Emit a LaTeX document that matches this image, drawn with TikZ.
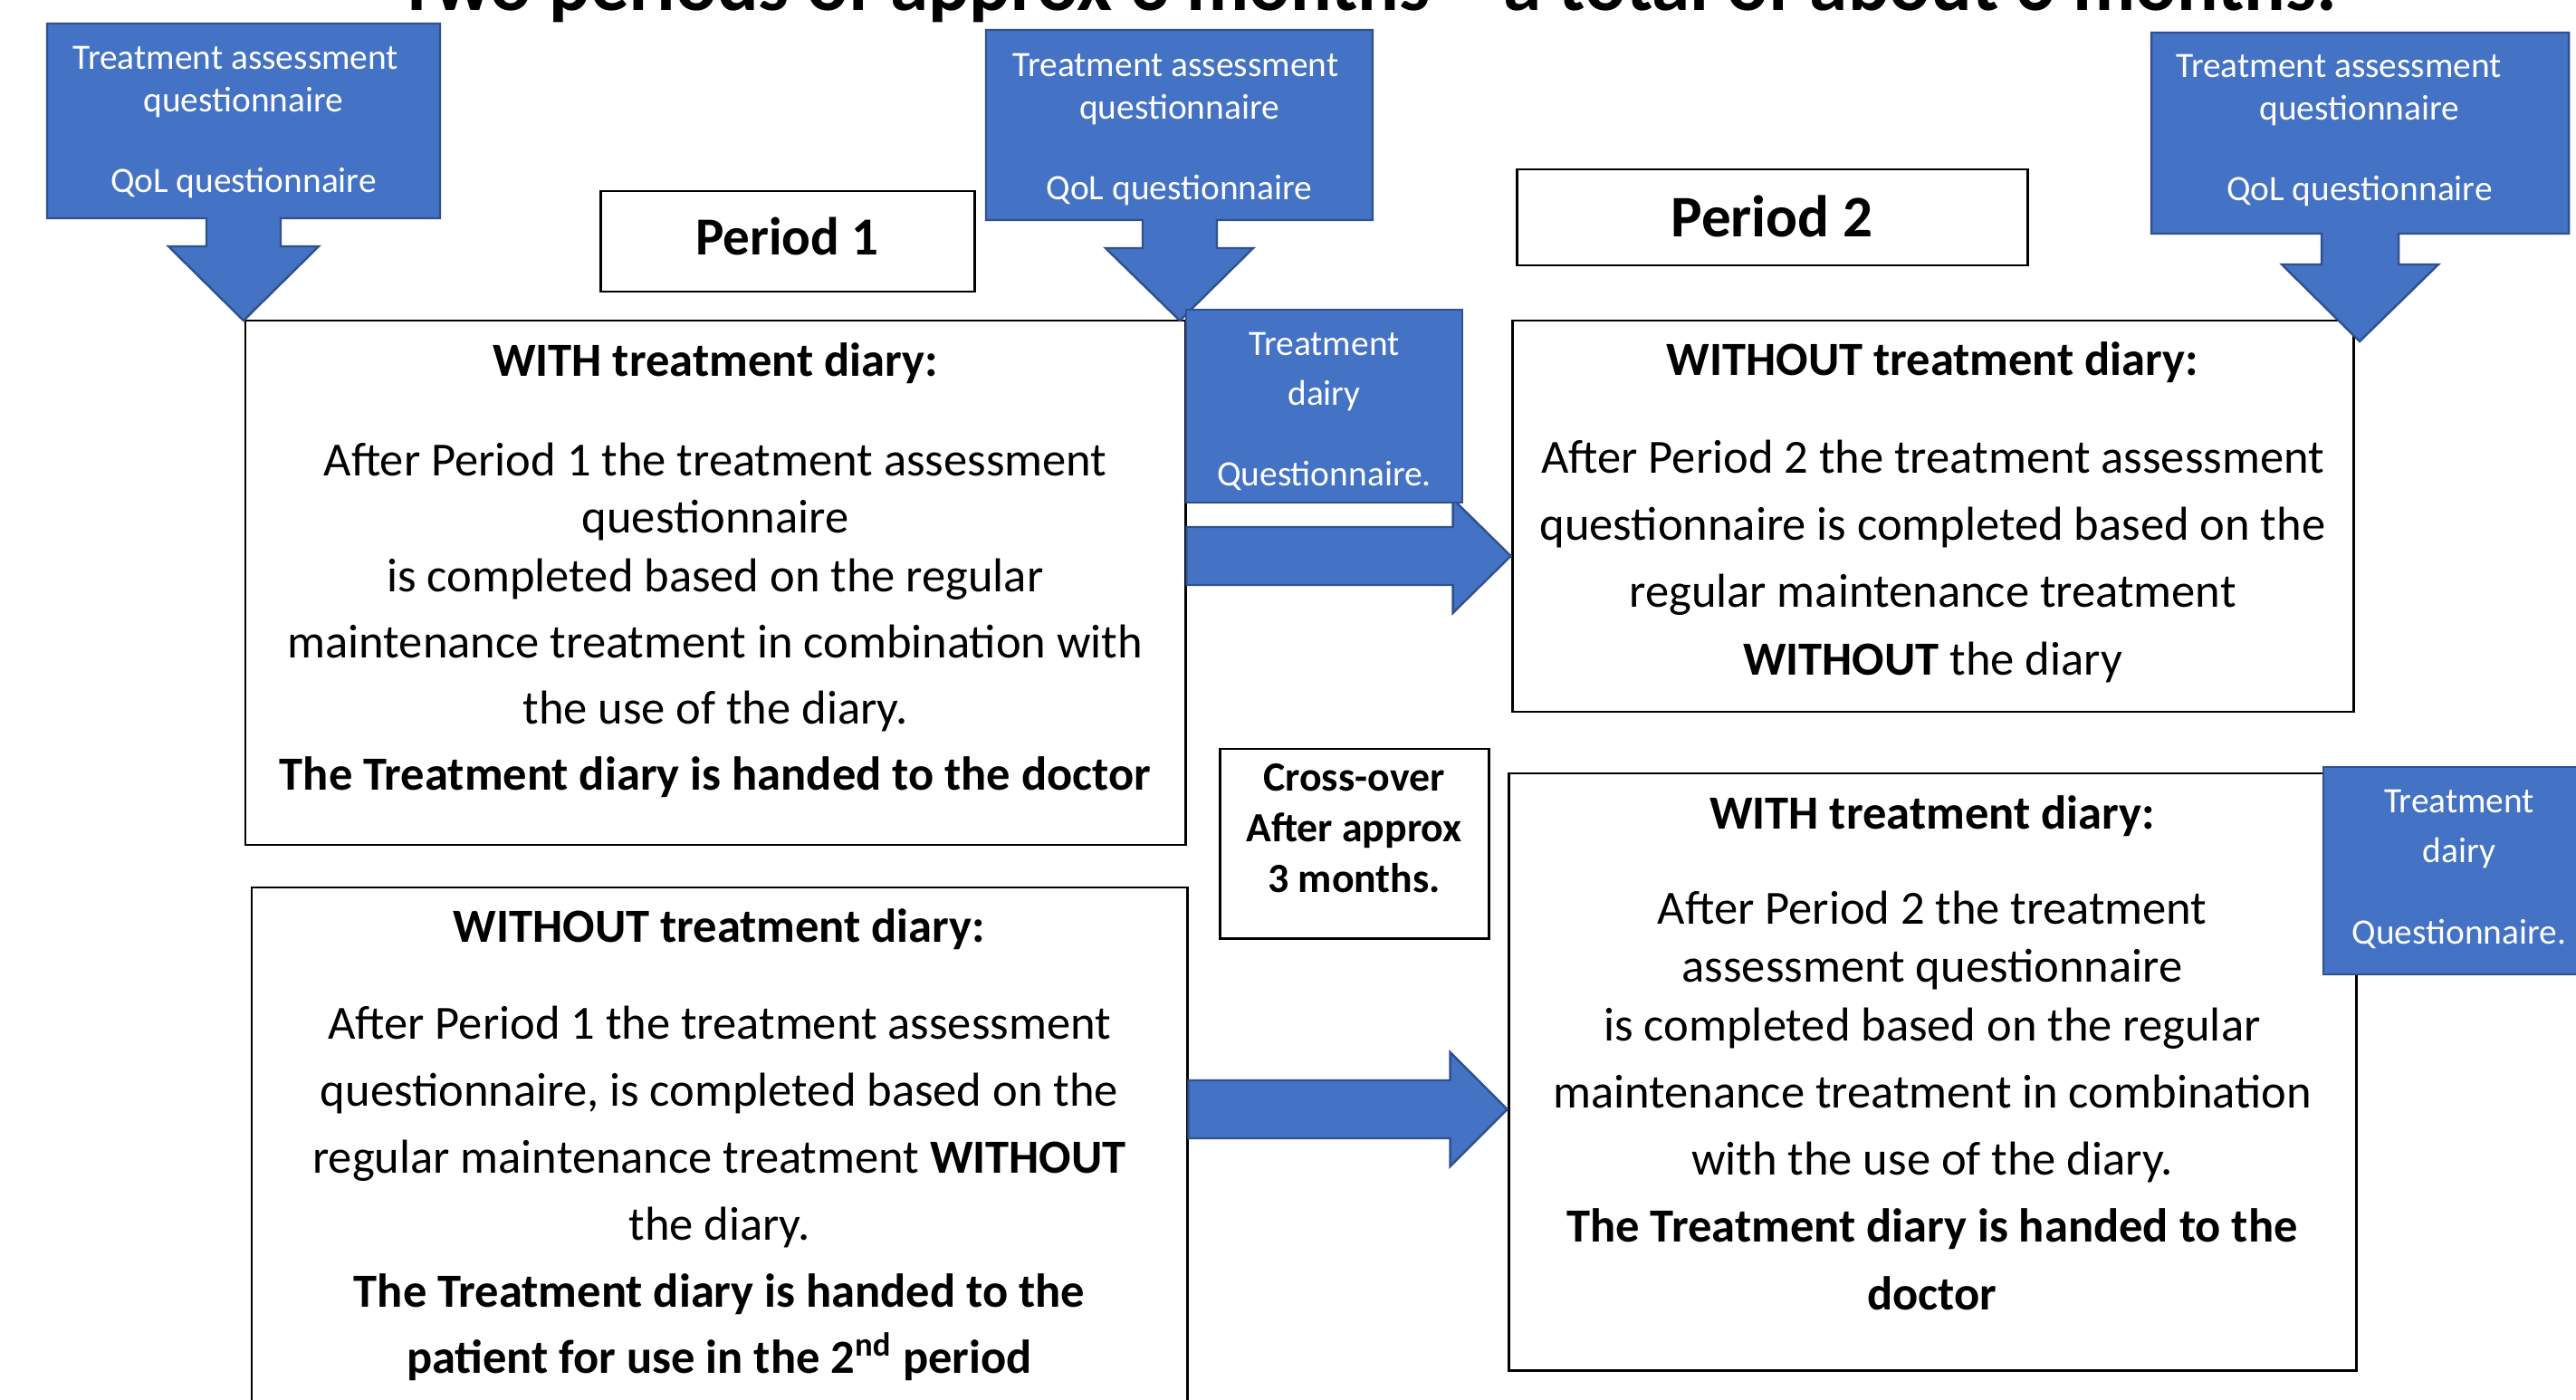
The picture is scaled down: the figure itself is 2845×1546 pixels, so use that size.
\documentclass[tikz,border=0pt]{standalone}
\usepackage{fontspec}
\setmainfont{Carlito}
\usetikzlibrary{fit,calc}
\definecolor{offblue}{HTML}{4472C4}
\definecolor{offblueline}{HTML}{2F528F}
\newcommand{\bodyf}{\fontsize{14.94pt}{21.05pt}\selectfont}
\newcommand{\bluef}{\fontsize{11.21pt}{13.37pt}\selectfont}
\newcommand{\dairyf}{\fontsize{11.21pt}{15.65pt}\selectfont}
\newcommand{\crossf}{\fontsize{13.03pt}{15.8pt}\selectfont\bfseries}
\begin{document}
\begin{tikzpicture}[x=0.01cm,y=-0.01cm,
  frame/.style={draw=black, line width=0.85pt, fill=white, inner sep=0pt},
  bluebox/.style={fill=offblue, draw=offblueline, line width=0.7pt, inner sep=0pt},
  callout/.style={fill=offblue, draw=offblueline, line width=0.7pt, line join=miter},
  blockarrow/.style={fill=offblue, draw=offblueline, line width=0.7pt, line join=miter},
  txt/.style={anchor=base, align=center, inner sep=0pt},
  wtxt/.style={txt, text=white}
]
\useasboundingbox (0,0) rectangle (2845,1546);
\clip (0,0) rectangle (2845,1546);

% title
\node[txt, font=\fontsize{24.2pt}{29pt}\selectfont\bfseries] (title) at (1510,12)
  {Two periods of approx 3 months – a total of about 6 months.};

% frames
\node[frame, fit={(271,354) (1309,933)}] (withA) {};
\node[frame, fit={(278,980) (1311,1600)}] (withoutA) {};
\node[frame, fit={(1670,354) (2599,786)}] (withoutB) {};
\node[frame, fit={(1666,854) (2602,1513)}] (withB) {};
\node[frame, fit={(663,211) (1076,322)}] (p1) {};
\node[frame, fit={(1675,187) (2239,293)}] (p2) {};
\node[frame, fit={(1347,827) (1644,1036)}] (cross) {};

% period labels
\node[txt, font=\fontsize{16.8pt}{20pt}\selectfont\bfseries] (p1t) at (p1.center |- 0,282) {Period 1};
\node[txt, font=\fontsize{18.5pt}{22pt}\selectfont\bfseries] (p2t) at (p2.center |- 0,262) {Period 2};

% cross-over (anchor = baseline of last line)
\node[txt, font=\crossf] (crosst) at (cross.center |- 0,985) {Cross-over\\After approx\\3 months.};

% box texts (anchor = baseline of last line)
\node[txt, font=\bodyf] (withAt) at (790,872) {\textbf{WITH treatment diary:}\\[9.96pt]
  After Period 1 the treatment assessment\\[-3.13pt]
  questionnaire\hspace*{5.7pt}\\[-2.56pt]
  is completed based on the regular\\[-0.3pt]
  maintenance treatment in combination with\hspace*{6pt}\\[-0.3pt]
  the use of the diary.\\[-0.3pt]
  \textbf{The Treatment diary is handed to the doctor}};

\node[txt, font=\bodyf] (withoutAt) at (794.5,1516) {\textbf{WITHOUT treatment diary:}\\[9.39pt]
  After Period 1 the treatment assessment\\
  questionnaire, is completed based on the\\
  regular maintenance treatment \textbf{WITHOUT}\\
  the diary.\\
  \textbf{The Treatment diary is handed to the}\\[-0.5pt]
  \textbf{patient for use in the 2\textsuperscript{nd} period}};

\node[txt, font=\bodyf] (withoutBt) at (2134.5,745) {\textbf{WITHOUT treatment diary:}\\[9.67pt]
  After Period 2 the treatment assessment\\
  questionnaire is completed based on the\\
  regular maintenance treatment\\
  \textbf{WITHOUT} the diary};

\node[txt, font=\bodyf] (withBt) at (2134,1446) {\textbf{WITH treatment diary:}\\[8.82pt]
  After Period 2 the treatment\\[-2.85pt]
  assessment questionnaire\\[-2.56pt]
  is completed based on the regular\\
  maintenance treatment in combination\\
  with the use of the diary.\\
  \textbf{The Treatment diary is handed to the}\\
  \textbf{doctor}};

% callouts (box + down arrow)
\draw[callout] (52,26) -- (486,26) -- (486,241) -- (310,241) -- (310,272) -- (352,272)
  -- (269,354) -- (186,272) -- (228,272) -- (228,241) -- (52,241) -- cycle;
\node[wtxt, font=\bluef] (calA) at (269,213) {Treatment assessment\hspace*{5pt}\\questionnaire\\[11.95pt]QoL questionnaire};

\draw[callout] (1089,33) -- (1516,33) -- (1516,243) -- (1344,243) -- (1344,274) -- (1384,274)
  -- (1303,354) -- (1221,274) -- (1262,274) -- (1262,243) -- (1089,243) -- cycle;
\node[wtxt, font=\bluef] (calB) at (1302.5,221) {Treatment assessment\hspace*{2.3pt}\\questionnaire\\[11.95pt]QoL questionnaire};

\draw[callout] (2376,36) -- (2837,36) -- (2837,258) -- (2649,258) -- (2649,292) -- (2693,292)
  -- (2606,377) -- (2520,292) -- (2564,292) -- (2564,258) -- (2376,258) -- cycle;
\node[wtxt, font=\bluef] (calC) at (2606,222) {Treatment assessment\hspace*{13pt}\\questionnaire\\[11.95pt]QoL questionnaire};

% horizontal block arrows
\coordinate (a1e) at (withoutB.west |- 0,614);
\coordinate (a1s) at (withA.east |- a1e);
\draw[blockarrow] ($(a1s)+(0,-32)$) -- ($(a1e)+(-64,-32)$) -- ($(a1e)+(-64,-63)$) -- (a1e)
  -- ($(a1e)+(-64,63)$) -- ($(a1e)+(-64,32)$) -- ($(a1s)+(0,32)$) -- cycle;

\coordinate (a2e) at (withB.west |- 0,1225);
\coordinate (a2s) at (withoutA.east |- a2e);
\draw[blockarrow] ($(a2s)+(0,-32)$) -- ($(a2e)+(-63,-32)$) -- ($(a2e)+(-63,-63)$) -- (a2e)
  -- ($(a2e)+(-63,63)$) -- ($(a2e)+(-63,32)$) -- ($(a2s)+(0,32)$) -- cycle;

% treatment dairy boxes
\node[bluebox, fit={(1310,342) (1615,555)}] (dairyA) {};
\node[wtxt, font=\dairyf] (dairyAt) at (dairyA.center |- 0,537) {Treatment\\dairy\\[9.67pt]Questionnaire.};
\node[bluebox, fit={(2566,847) (2866,1076)}] (dairyB) {};
\node[wtxt, font=\dairyf] (dairyBt) at (dairyB.center |- 0,1042) {Treatment\\dairy\\[9.67pt]Questionnaire.};
\end{tikzpicture}
\end{document}
